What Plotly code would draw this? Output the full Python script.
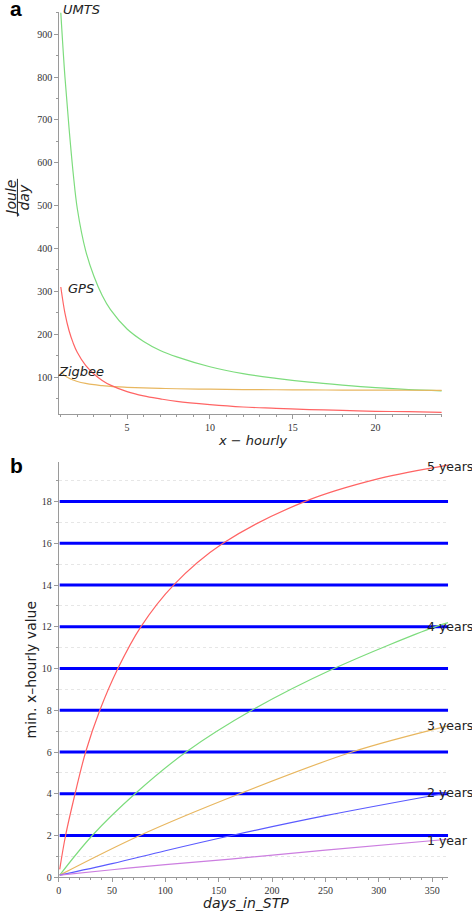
import plotly.graph_objects as go

W, H = 472, 919

# ---------------- Panel a data ----------------
x_hourly = [1, 1.25, 1.5, 1.75, 2, 2.5, 3, 3.5, 4, 5, 6, 7, 8, 10, 12, 14, 16, 18, 20, 22, 24]
umts = [950, 800, 680, 575, 492, 395, 335, 290, 257, 212, 183, 162, 147, 124, 108, 97, 88, 81, 75, 70.5, 67.8]
gps = [310, 249, 208, 179, 157, 127, 107, 92, 81, 66, 56, 49, 43, 35.5, 30, 27, 24, 22, 20, 19, 17.5]
zigbee = [112, 103, 97, 93, 89.5, 85, 82, 80, 78, 76, 74.5, 73.5, 72.6, 71.5, 70.7, 70.2, 69.8, 69.5, 69.3, 69.1, 68.9]

# ---------------- Panel b data ----------------
d5 = [1, 6.5, 15.4, 25.3, 38.6, 55.5, 77, 107.7, 154, 230.5, 300, 365]
y5 = [0.38, 2, 4, 6, 8, 10, 12, 14, 16, 18, 19.1, 19.75]
d4 = [1, 31.5, 71.6, 119.4, 181, 258, 352.5, 365]
y4 = [0.1, 2, 4, 6, 8, 10, 12, 12.2]
d3 = [1, 76, 169.6, 275, 365]
y3 = [0.1, 2, 4, 6, 7.25]
d2 = [1, 50, 100, 162, 250, 365]
y2 = [0.1, 0.65, 1.27, 2, 2.95, 4.05]
d1 = [1, 50, 100, 161, 250, 365]
y1 = [0.1, 0.36, 0.6, 0.87, 1.3, 1.82]
hlines = [2, 4, 6, 8, 10, 12, 14, 16, 18]
hline_x = [1, 365]
year_labels = ["5 years", "4 years", "3 years", "2 years", "1 year"]


def px(x):
    return x / W


def py(y):
    return 1 - y / H


fig = go.Figure()

line_w = 1.2
fig.add_trace(go.Scatter(x=x_hourly, y=umts, mode="lines", line=dict(color="#7ddc7d", width=line_w, shape="spline"), xaxis="x", yaxis="y"))
fig.add_trace(go.Scatter(x=x_hourly, y=zigbee, mode="lines", line=dict(color="#e8b760", width=line_w, shape="spline"), xaxis="x", yaxis="y"))
fig.add_trace(go.Scatter(x=x_hourly, y=gps, mode="lines", line=dict(color="#ff6464", width=line_w, shape="spline"), xaxis="x", yaxis="y"))

# horizontal blue lines
hx, hy = [], []
for v in hlines:
    hx += [hline_x[0], hline_x[1], None]
    hy += [v, v, None]
fig.add_trace(go.Scatter(x=hx, y=hy, mode="lines", line=dict(color="#0000ff", width=3), xaxis="x2", yaxis="y2"))

for dd, yy, col in [(d5, y5, "#ff6464"), (d4, y4, "#7ddc7d"), (d3, y3, "#e8b760"),
                    (d2, y2, "#5a5aff"), (d1, y1, "#cc7ee0")]:
    fig.add_trace(go.Scatter(x=dd, y=yy, mode="lines", line=dict(color=col, width=line_w, shape="spline"),
                             xaxis="x2", yaxis="y2"))

tickfont = dict(family="Liberation Serif, DejaVu Serif, serif", size=10, color="#333333")
axis_common = dict(showline=True, linecolor="#9a9a9a", linewidth=1, ticks="outside", ticklen=4,
                   tickcolor="#9a9a9a", tickfont=tickfont, zeroline=False, showgrid=False)

fig.update_layout(
    width=W, height=H, margin=dict(l=0, r=0, t=0, b=0),
    paper_bgcolor="white", plot_bgcolor="white", showlegend=False,
    xaxis=dict(domain=[px(56.5), px(441.6)], range=[0.9, 24], anchor="y", tick0=0, dtick=5,
               minor=dict(ticks="outside", ticklen=2, dtick=1, tick0=0, tickcolor="#9a9a9a"), **axis_common),
    yaxis=dict(domain=[py(417), py(12)], range=[13, 952], anchor="x", tick0=0, dtick=100,
               minor=dict(ticks="outside", ticklen=2, dtick=50, tick0=0, tickcolor="#9a9a9a"), **axis_common),
    xaxis2=dict(domain=[px(56), px(448)], range=[0, 365], anchor="y2", tick0=0, dtick=50,
                minor=dict(ticks="outside", ticklen=2, dtick=10, tick0=0, tickcolor="#9a9a9a"), **axis_common),
    yaxis2=dict(domain=[py(883), py(465)], range=[0, 19.9], anchor="x2", tick0=0, dtick=2,
                minor=dict(ticks="outside", ticklen=2, dtick=1, tick0=0, tickcolor="#9a9a9a",
                           showgrid=True, gridcolor="#e6e6e6", griddash="dot", gridwidth=1), **axis_common),
)

sans = "DejaVu Sans, Verdana, sans-serif"
ital = dict(family=sans, size=13, color="#222222")
ann = []


def add_text(text, x, y, font, xanchor="center", yanchor="middle", angle=0):
    ann.append(dict(text=text, x=px(x), y=py(y), xref="paper", yref="paper", showarrow=False,
                    font=font, xanchor=xanchor, yanchor=yanchor, textangle=angle))


add_text("<b>a</b>", 5, 9, dict(family="Liberation Sans, Arial, sans-serif", size=21, color="black"), xanchor="left")
add_text("<b>b</b>", 5, 469, dict(family="Liberation Sans, Arial, sans-serif", size=21, color="black"), xanchor="left")

add_text("<i>UMTS</i>", 58, 10, ital, xanchor="left")
add_text("<i>GPS</i>", 63, 290, ital, xanchor="left")
add_text("<i>Zigbee</i>", 53, 374, ital, xanchor="left")

# Joule / day fraction
add_text("<i>Joule</i>", 8, 199, dict(family=sans, size=14, color="#222222"), angle=-90)
add_text("<i>day</i>", 21, 199, dict(family=sans, size=14, color="#222222"), angle=-90)
add_text("<i>x − hourly</i>", 251, 443, dict(family=sans, size=13, color="#222222"))

add_text("min. x–hourly value", 28, 674, dict(family=sans, size=14, color="#222222"), angle=-90)
add_text("<i>days_in_STP</i>", 245, 909, dict(family=sans, size=14, color="#222222"))

lab_font = dict(family=sans, size=12.5, color="#222222")
for txt, yy in zip(year_labels, [470, 631, 730, 798, 846]):
    add_text(txt, 425, yy, lab_font, xanchor="left")

fig.update_layout(annotations=ann)
fig.add_shape(type="line", xref="paper", yref="paper", x0=px(14.5), x1=px(14.5), y0=py(180), y1=py(218),
              line=dict(color="#222222", width=1))

fig.write_html("out.html", config={"displayModeBar": False},
               post_script="document.body.style.margin='0';document.body.style.overflow='hidden';")
